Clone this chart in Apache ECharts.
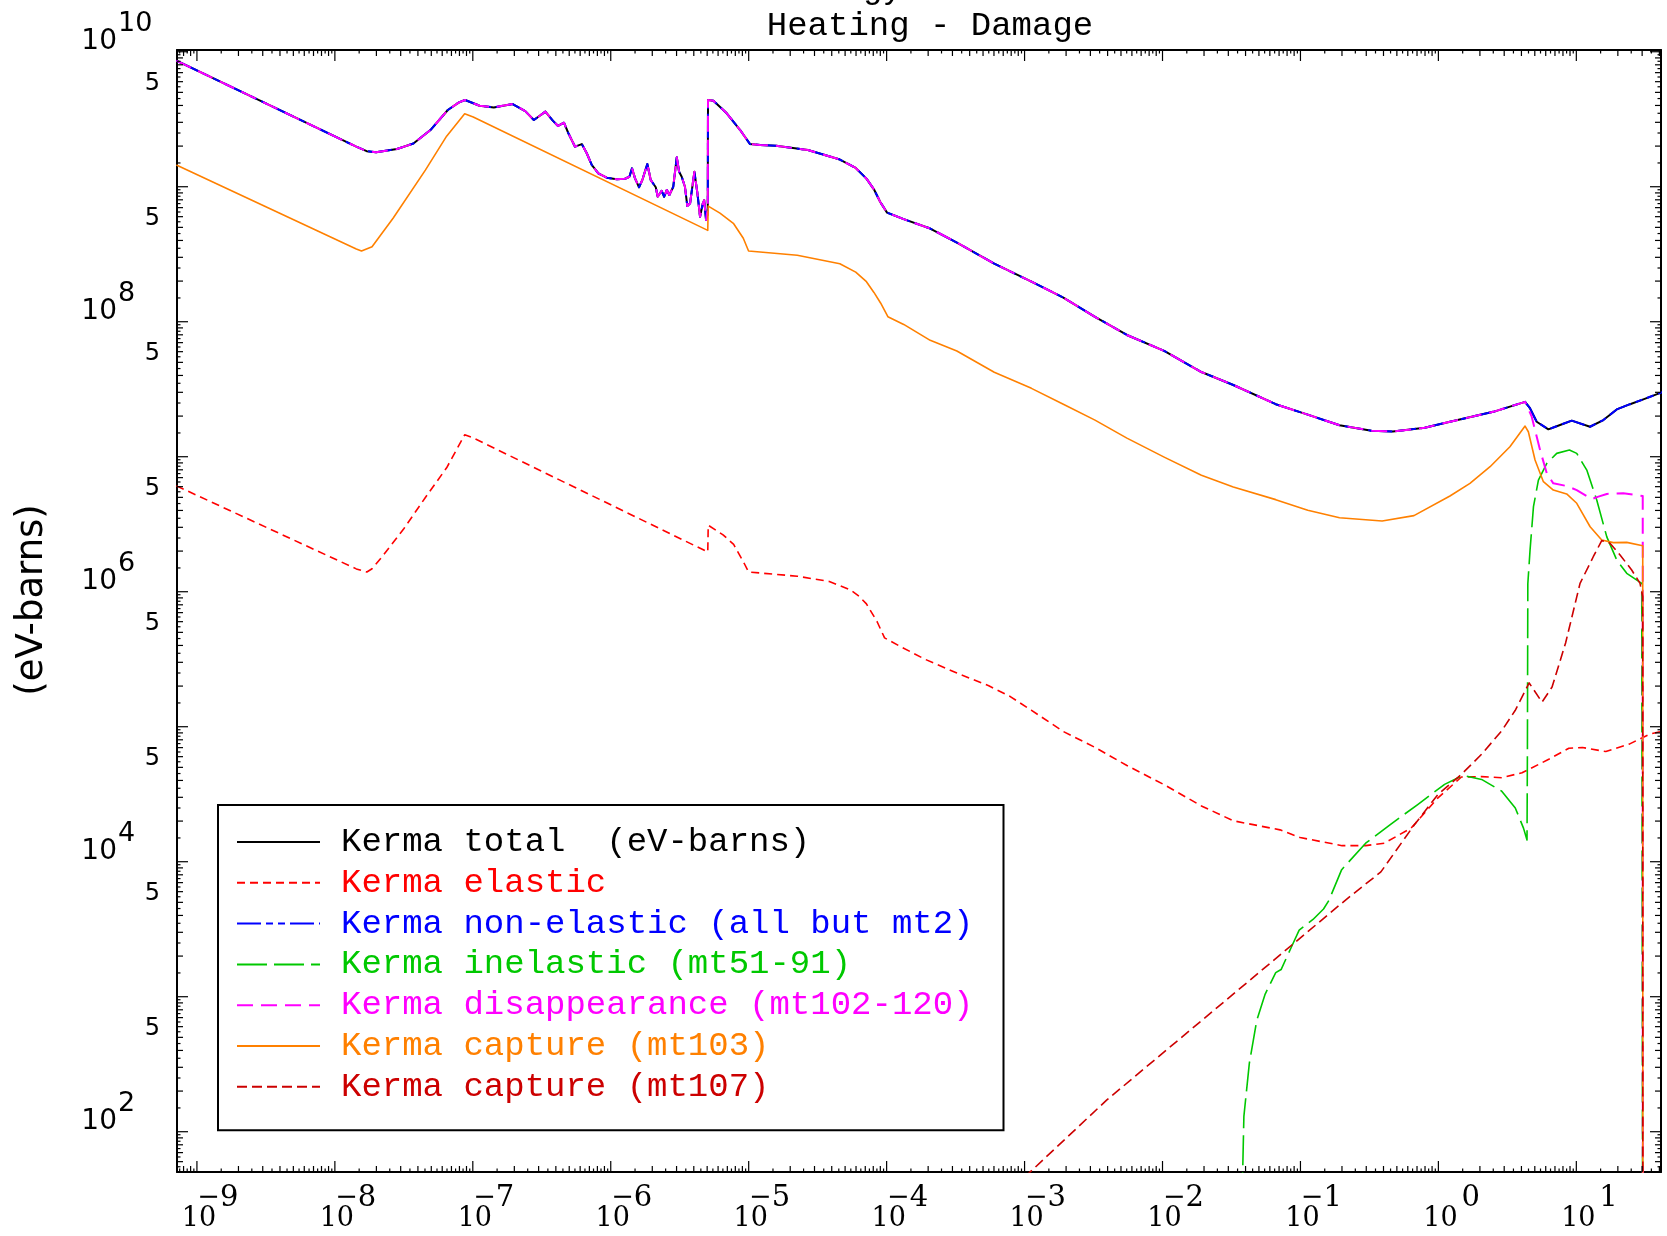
<!DOCTYPE html>
<html>
<head>
<meta charset="utf-8">
<script src="https://cdn.jsdelivr.net/npm/echarts@6/dist/echarts.min.js"></script>
<style>html,body{margin:0;padding:0;background:#fff}#chart{width:1667px;height:1236px}</style>
</head>
<body>
<div id="chart"></div>
<script>
// ---------------- axis ranges & labels ----------------
const X_MIN = 7.17e-10, X_MAX = 41.1;
const Y_MIN = 50.3, Y_MAX = 1.03e10;
const xLabelExponents = [-9, -8, -7, -6, -5, -4, -3, -2, -1, 0, 1];
const yLabelExponents = [2, 4, 6, 8, 10];
const yFiveLabels = [5e2, 5e3, 5e4, 5e5, 5e6, 5e7, 5e8, 5e9];
const tickMantissas = [1, 1.5, 2, 2.5, 3, 3.5, 4, 4.5, 5, 5.5, 6, 6.5, 7, 7.5, 8, 8.5, 9, 9.5];
const titleText = 'Heating - Damage';
const cutTitleText = 'Energy';
const yAxisTitle = '(eV-barns)';

const seriesNames = [
  'Kerma total  (eV-barns)',
  'Kerma elastic',
  'Kerma non-elastic (all but mt2)',
  'Kerma inelastic (mt51-91)',
  'Kerma disappearance (mt102-120)',
  'Kerma capture (mt103)',
  'Kerma capture (mt107)'
];
const seriesColors = ['#000000', '#ff0000', '#0000ff', '#00c800', '#ff00ff', '#ff8000', '#cc0000'];

// ---------------- data: [energy, kerma] ----------------
// part shared by total, non-elastic and disappearance (they coincide up to ~4 MeV)
const upperCommon = [
  [7.1e-10, 8.59e9], [1.43e-8, 1.98e9], [1.70e-8, 1.835e9], [1.99e-8, 1.80e9], [2.82e-8, 1.905e9],
  [3.71e-8, 2.09e9], [4.93e-8, 2.63e9], [6.59e-8, 3.70e9], [7.94e-8, 4.22e9], [8.79e-8, 4.39e9],
  [1.12e-7, 3.98e9], [1.42e-7, 3.87e9], [1.945e-7, 4.10e9], [2.40e-7, 3.63e9], [2.77e-7, 3.12e9],
  [3.36e-7, 3.60e9], [3.80e-7, 3.09e9], [4.15e-7, 2.82e9], [4.58e-7, 2.98e9], [4.93e-7, 2.49e9],
  [5.51e-7, 1.98e9], [6.17e-7, 2.07e9], [6.70e-7, 1.77e9], [7.28e-7, 1.45e9], [8.13e-7, 1.256e9],
  [9.35e-7, 1.167e9], [1.104e-6, 1.135e9], [1.268e-6, 1.146e9], [1.365e-6, 1.186e9], [1.426e-6, 1.368e9],
  [1.50e-6, 1.153e9], [1.603e-6, 9.91e8], [1.694e-6, 1.122e9], [1.841e-6, 1.472e9], [1.95e-6, 1.122e9],
  [2.12e-6, 9.91e8], [2.19e-6, 8.43e8], [2.34e-6, 9.33e8], [2.44e-6, 8.43e8], [2.55e-6, 9.46e8],
  [2.66e-6, 8.69e8], [2.84e-6, 1.00e9], [3.01e-6, 1.652e9], [3.13e-6, 1.291e9], [3.27e-6, 1.186e9],
  [3.45e-6, 1.00e9], [3.59e-6, 7.19e8], [3.76e-6, 7.53e8], [4.04e-6, 1.291e9], [4.25e-6, 8.93e8],
  [4.44e-6, 6.00e8], [4.65e-6, 7.53e8], [4.76e-6, 7.96e8], [4.91e-6, 5.66e8], [5.01e-6, 6.53e8],
  [5.05e-6, 6.2e8], [5.07e-6, 4.39e9], [5.55e-6, 4.34e9], [6.93e-6, 3.50e9], [8.67e-6, 2.63e9],
  [1.023e-5, 2.07e9], [1.21e-5, 2.04e9], [1.58e-5, 2.01e9], [2.69e-5, 1.87e9], [4.58e-5, 1.59e9],
  [5.97e-5, 1.377e9], [7.14e-5, 1.148e9], [8.09e-5, 9.57e8], [8.99e-5, 7.71e8], [1.007e-4, 6.43e8],
  [1.33e-4, 5.75e8], [2.07e-4, 4.90e8], [3.23e-4, 3.86e8],
  [6.03e-4, 2.69e8], [1.122e-3, 1.98e8], [1.91e-3, 1.51e8], [3.24e-3, 1.086e8], [5.52e-3, 7.98e7],
  [1.028e-2, 6.08e7], [1.914e-2, 4.24e7], [3.26e-2, 3.40e7], [6.62e-2, 2.45e7], [0.113, 2.05e7],
  [0.192, 1.71e7], [0.327, 1.56e7], [0.468, 1.535e7], [0.796, 1.64e7], [1.213, 1.815e7],
  [2.50, 2.15e7], [4.25, 2.55e7]
];
const totalTail = [
  [4.61, 2.29e7], [5.16, 1.815e7], [6.27, 1.596e7], [7.62, 1.718e7], [9.27, 1.85e7],
  [12.56, 1.667e7], [15.7, 1.87e7], [19.63, 2.24e7], [24.5, 2.45e7], [30.6, 2.66e7], [42.8, 3.03e7]
];
const disappearanceTail = [
  [4.75, 1.98e7], [5.46, 1.122e7], [6.11, 7.53e6], [6.81, 6.35e6], [8.51, 6.07e6], [10.07, 5.66e6],
  [12.94, 4.86e6], [14.45, 5.06e6], [16.63, 5.30e6], [21.9, 5.36e6], [30.3, 5.12e6], [30.35, 1]
];
const kermaElastic = [
  [7.1e-10, 6.08e6], [1.43e-8, 1.476e6], [1.706e-8, 1.40e6], [1.86e-8, 1.479e6], [2.22e-8, 1.837e6],
  [3.17e-8, 2.94e6], [4.53e-8, 4.99e6], [6.46e-8, 8.28e6], [8.73e-8, 1.452e7], [1.007e-7, 1.377e7],
  [5.05e-6, 1.97e6], [5.09e-6, 3.11e6], [6.52e-6, 2.64e6], [7.78e-6, 2.24e6], [9.29e-6, 1.618e6],
  [9.98e-6, 1.40e6], [2.25e-5, 1.303e6], [3.84e-5, 1.191e6], [5.48e-5, 1.03e6], [6.32e-5, 9.23e5],
  [7.14e-5, 8.13e5], [8.55e-5, 5.97e5], [9.66e-5, 4.55e5], [1.216e-4, 4.00e5], [1.897e-4, 3.16e5],
  [3.23e-4, 2.50e5],
  [5.50e-4, 2.01e5], [7.83e-4, 1.679e5], [1.117e-3, 1.327e5], [1.905e-3, 9.23e4], [3.24e-3, 7.03e4],
  [5.52e-3, 5.16e4], [1.028e-2, 3.72e4], [1.914e-2, 2.59e4], [3.26e-2, 2.01e4], [7.11e-2, 1.722e4],
  [9.95e-2, 1.51e4], [0.2004, 1.315e4], [0.297, 1.315e4], [0.405, 1.371e4], [0.634, 1.774e4],
  [0.993, 2.97e4], [1.469, 4.24e4], [2.056, 4.27e4], [2.88, 4.19e4], [4.04, 4.56e4], [6.31, 5.74e4],
  [8.83, 6.93e4], [11.07, 7.01e4], [16.37, 6.55e4], [24.2, 7.43e4], [33.96, 8.81e4], [45.5, 9.46e4]
];
const kermaInelastic = [
  [3.72e-2, 16], [3.89e-2, 130], [4.26e-2, 321], [4.82e-2, 667], [5.55e-2, 1047], [6.62e-2, 1507],
  [7.24e-2, 1589], [8.65e-2, 2366], [9.79e-2, 3112], [0.1233, 3733], [0.147, 4467], [0.1607, 5164],
  [0.199, 8730], [0.297, 1.371e4], [0.453, 1.901e4], [0.708, 2.65e4], [1.109, 3.74e4], [1.510, 4.36e4],
  [2.056, 4.07e4], [2.88, 3.33e4], [3.61, 2.50e4], [4.14, 1.774e4], [4.39, 1.449e4], [4.42, 6.76e4],
  [4.45, 1.148e6], [4.62, 2.04e6], [4.89, 4.27e6], [5.31, 6.71e6], [6.11, 8.93e6], [7.21, 1.059e7],
  [8.91, 1.122e7], [10.07, 1.059e7], [11.91, 7.96e6], [14.06, 4.78e6], [16.63, 2.55e6], [19.63, 1.718e6],
  [23.2, 1.368e6], [29.8, 1.153e6], [30.35, 1]
];
const kermaCapture103 = [
  [7.1e-10, 1.45e9], [1.43e-8, 3.46e8], [1.56e-8, 3.34e8], [1.86e-8, 3.59e8], [2.65e-8, 5.86e8],
  [4.53e-8, 1.327e9], [6.46e-8, 2.37e9], [8.73e-8, 3.47e9], [1.007e-7, 3.29e9], [5.05e-6, 4.75e8],
  [5.09e-6, 7.19e8], [6.19e-6, 6.38e8], [7.74e-6, 5.36e8], [9.14e-6, 4.15e8], [9.98e-6, 3.34e8],
  [2.25e-5, 3.11e8], [4.58e-5, 2.69e8], [5.97e-5, 2.33e8], [7.14e-5, 1.98e8], [8.09e-5, 1.648e8],
  [9.04e-5, 1.377e8], [1.021e-4, 1.089e8],
  [1.33e-4, 9.55e7], [2.07e-4, 7.28e7], [3.23e-4, 6.07e7], [6.03e-4, 4.22e7], [1.122e-3, 3.21e7],
  [1.91e-3, 2.45e7], [3.24e-3, 1.866e7], [5.52e-3, 1.374e7], [1.028e-2, 9.93e6], [1.914e-2, 7.29e6],
  [3.26e-2, 5.97e6], [6.62e-2, 4.81e6], [0.113, 4.01e6], [0.192, 3.53e6], [0.391, 3.34e6],
  [0.665, 3.66e6], [1.213, 5.12e6], [1.694, 6.35e6], [2.37, 8.43e6], [3.30, 1.186e7], [4.25, 1.687e7],
  [4.49, 1.531e7], [5.02, 9.46e6], [5.77, 6.53e6], [6.81, 5.66e6], [8.51, 5.30e6], [10.07, 4.52e6],
  [12.59, 3.03e6], [15.28, 2.415e6], [18.53, 2.31e6], [23.2, 2.32e6], [30.3, 2.19e6], [30.35, 1]
];
const kermaCapture107 = [
  [1.0e-3, 46], [3.95e-3, 172], [0.2123, 5200], [0.383, 8410], [0.670, 1.879e4], [0.993, 3.15e4],
  [1.469, 4.44e4], [2.056, 6.25e4], [2.88, 9.33e4], [3.60, 1.318e5], [4.55, 2.11e5], [5.64, 1.521e5],
  [6.67, 1.968e5], [8.36, 4.17e5], [10.64, 1.153e6], [13.27, 1.816e6], [15.28, 2.39e6], [17.54, 2.29e6],
  [20.75, 1.871e6], [25.2, 1.449e6], [28.97, 1.153e6], [30.3, 9.18e5], [30.35, 1]
];

const kermaTotal = upperCommon.concat(totalTail);
const kermaNonElastic = upperCommon.concat(totalTail);
const kermaDisappearance = upperCommon.concat(disappearanceTail);

// ---------------- chart ----------------
const chart = echarts.init(document.getElementById('chart'), null, {renderer: 'canvas'});

const MONO = 'Liberation Mono';
function lineSeries(i, data, width, dash) {
  return {
    name: seriesNames[i], type: 'line', data: data,
    xAxisIndex: 0, yAxisIndex: 0,
    symbol: 'none', showSymbol: false, clip: true, silent: true, animation: false,
    smooth: false,
    lineStyle: {color: seriesColors[i], width: width, type: dash || 'solid', cap: 'butt', join: 'round'},
    itemStyle: {color: seriesColors[i]},
    z: 2 + i * 0.01
  };
}

function renderDecor(params, api) {
  const ch = [];
  const tick = (x1, y1, x2, y2) => ch.push({type: 'line', shape: {x1, y1, x2, y2}, style: {stroke: '#000', lineWidth: 1.2}});
  const txt = (text, x, y, align, size, family) => ch.push({
    type: 'text', x: x, y: y,
    style: {text: text, fill: '#000', fontSize: size, fontFamily: family,
      align: align, verticalAlign: 'middle', textAlign: align, textVerticalAlign: 'middle'}
  });
  const lenOf = m => m === 1 ? 11 : (Number.isInteger(m) ? 6 : 3.5);
  for (let d = -11; d <= 2; d++) {
    for (const m of tickMantissas) {
      const v = m * Math.pow(10, d);
      if (v < X_MIN || v > X_MAX) continue;
      const b = api.coord([v, Y_MIN]), t = api.coord([v, Y_MAX]), L = lenOf(m);
      tick(b[0], b[1], b[0], b[1] - L);
      tick(t[0], t[1], t[0], t[1] + L);
    }
  }
  for (let d = 1; d <= 11; d++) {
    for (const m of tickMantissas) {
      const v = m * Math.pow(10, d);
      if (v < Y_MIN || v > Y_MAX) continue;
      const l = api.coord([X_MIN, v]), r = api.coord([X_MAX, v]), L = lenOf(m);
      tick(l[0], l[1], l[0] + L, l[1]);
      tick(r[0], r[1], r[0] - L, r[1]);
    }
  }
  // x labels
  for (const e of xLabelExponents) {
    const p = api.coord([Math.pow(10, e), Y_MIN]);
    txt('10', p[0] + 2, p[1] + 47, 'center', 27, 'DejaVu Serif');
    txt(String(Math.abs(e)), p[0] + 23, p[1] + 26, 'left', 29, 'DejaVu Serif');
    if (e < 0) txt('\u2212', p[0] + 23, p[1] + 26, 'right', 27, 'DejaVu Serif');
  }
  // y labels
  for (const e of yLabelExponents) {
    const p = api.coord([X_MIN, Math.pow(10, e)]);
    txt('10', p[0] - 60, p[1] - 10, 'right', 28, 'DejaVu Sans');
    txt(String(e), p[0] - 59, p[1] - 28, 'left', 27, 'DejaVu Sans');
  }
  for (const v of yFiveLabels) {
    const p = api.coord([X_MIN, v]);
    txt('5', p[0] - 17, p[1] - 8.5, 'right', 24, 'DejaVu Sans');
  }
  return {type: 'group', children: ch};
}

const axisCommon = {
  axisLine: {show: true, lineStyle: {color: '#000', width: 2}},
  axisTick: {show: false}, axisLabel: {show: false}, splitLine: {show: false}
};

const option = {
  backgroundColor: '#ffffff',
  animation: false,
  grid: {left: 177, right: 6, top: 50, bottom: 64, containLabel: false},
  xAxis: [
    Object.assign({type: 'log', logBase: 10, min: X_MIN, max: X_MAX, position: 'bottom'}, axisCommon),
    Object.assign({type: 'log', logBase: 10, min: X_MIN, max: X_MAX, position: 'top'}, axisCommon)
  ],
  yAxis: [
    Object.assign({type: 'log', logBase: 10, min: Y_MIN, max: Y_MAX, position: 'left'}, axisCommon),
    Object.assign({type: 'log', logBase: 10, min: Y_MIN, max: Y_MAX, position: 'right'}, axisCommon)
  ],
  legend: {
    orient: 'vertical', left: 218, top: 805,
    padding: [16.6, 30, 23, 18],
    itemWidth: 83, itemHeight: 14, itemGap: 0,
    backgroundColor: '#ffffff', borderColor: '#000', borderWidth: 2, borderRadius: 0,
    selectedMode: false,
    itemStyle: {color: 'rgba(0,0,0,0)', borderColor: 'rgba(0,0,0,0)', borderWidth: 0, opacity: 0},
    textStyle: {fontFamily: MONO, fontSize: 34, lineHeight: 40.8, padding: [0, 0, 0, 16]},
    data: seriesNames.map((n, i) => ({name: n, textStyle: {color: seriesColors[i]}}))
  },
  graphic: [
    {type: 'text', x: 930, y: 26, z: 20,
      style: {text: titleText, fill: '#000', fontSize: 34, fontFamily: MONO,
        align: 'center', verticalAlign: 'middle', textAlign: 'center', textVerticalAlign: 'middle'}},
    {type: 'text', x: 903, y: -11, z: 20,
      style: {text: cutTitleText, fill: '#000', fontSize: 34, fontFamily: MONO,
        align: 'right', verticalAlign: 'middle', textAlign: 'right', textVerticalAlign: 'middle'}},
    {type: 'text', x: 32, y: 600, rotation: Math.PI / 2, z: 20,
      style: {text: yAxisTitle, fill: '#000', fontSize: 37, fontFamily: 'DejaVu Sans',
        align: 'center', verticalAlign: 'middle', textAlign: 'center', textVerticalAlign: 'middle'}}
  ],
  series: [
    lineSeries(0, kermaTotal, 2),
    lineSeries(1, kermaElastic, 1.6, [8, 5]),
    lineSeries(2, kermaNonElastic, 2, [24, 5, 7, 5, 7, 5]),
    lineSeries(3, kermaInelastic, 1.6, [30, 7]),
    lineSeries(4, kermaDisappearance, 2, [16, 8]),
    lineSeries(5, kermaCapture103, 1.6),
    lineSeries(6, kermaCapture107, 1.6, [10, 5]),
    {
      type: 'custom', name: 'axisDecor', coordinateSystem: 'cartesian2d',
      xAxisIndex: 0, yAxisIndex: 0, data: [[1, 1000]],
      clip: false, silent: true, animation: false, z: 10,
      renderItem: renderDecor
    }
  ]
};
chart.setOption(option);
</script>
</body>
</html>
